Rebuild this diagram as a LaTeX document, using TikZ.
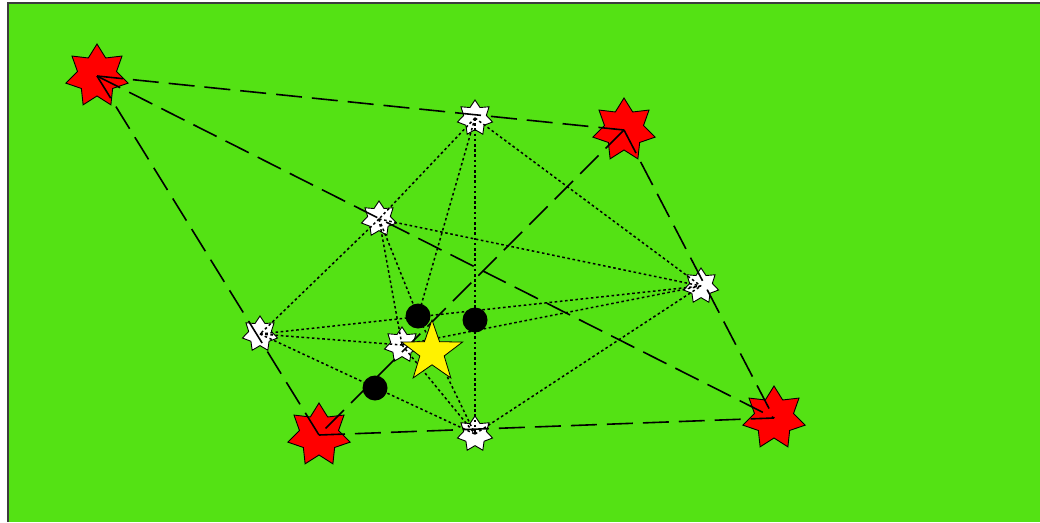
\documentclass[tikz,border=0pt]{standalone}
\usetikzlibrary{shapes.geometric}
\definecolor{bggreen}{RGB}{84,226,20}
\definecolor{framegray}{RGB}{60,60,60}
\tikzset{
  redstar/.style={star, star points=7, star point ratio=1.6, minimum size=64pt, inner sep=0pt, fill=red, draw=black, line width=0.9pt},
  whitestar/.style={star, star points=7, star point ratio=1.55, minimum size=36pt, inner sep=0pt, fill=white, draw=black, line width=0.9pt},
  yellowstar/.style={star, star points=5, star point ratio=2.5, minimum size=64pt, inner sep=0pt, fill=yellow, draw=black, line width=0.8pt},
  blackdot/.style={circle, fill=black, minimum size=25pt, inner sep=0pt},
  longdash/.style={draw=black, line width=1.6pt, dash pattern=on 26pt off 10pt},
  dotline/.style={draw=black, line width=1.5pt, dash pattern=on 2.6pt off 2.6pt}
}
\begin{document}
\begin{tikzpicture}[x=1pt, y=-1pt]
\useasboundingbox (0,0) rectangle (1040,522);
\fill[white] (0,0) rectangle (1040,522);
\fill[bggreen] (8,3) rectangle (1040,522);
\draw[framegray, line width=1.2pt] (8,522) -- (8,3) -- (1040,3);

% red stars
\node[redstar] (r1) at (97,76) {};
\node[redstar] (r2) at (624,130) {};
\node[redstar] (r3) at (319,435) {};
\node[redstar] (r4) at (774,418) {};

% white stars
\node[whitestar] (w1) at (475,118) {};
\node[whitestar] (w2) at (379,219) {};
\node[whitestar] (w3) at (701,286) {};
\node[whitestar] (w4) at (260,334) {};
\node[whitestar] (w5) at (402,345) {};
\node[whitestar] (w6) at (475,434) {};

% black dots (positions only, drawn later)
\coordinate (b1) at (418,316);
\coordinate (b2) at (475,320);
\coordinate (b3) at (375,388);

% long dashed edges
\draw[longdash] (r1.center) -- (r2.center);
\draw[longdash] (r1.center) -- (r3.center);
\draw[longdash] (r1.center) -- (r4.center);
\draw[longdash] (r2.center) -- (r3.center);
\draw[longdash] (r2.center) -- (r4.center);
\draw[longdash] (r3.center) -- (r4.center);

% dotted edges
\draw[dotline] (w1.center) -- (w2.center);
\draw[dotline] (w1.center) -- (w3.center);
\draw[dotline] (w1.center) -- (w6.center);
\draw[dotline] (w1.center) -- (b1);
\draw[dotline] (w2.center) -- (w3.center);
\draw[dotline] (w2.center) -- (w4.center);
\draw[dotline] (w2.center) -- (w5.center);
\draw[dotline] (w2.center) -- (b1);
\draw[dotline] (w4.center) -- (w3.center);
\draw[dotline] (w4.center) -- (w5.center);
\draw[dotline] (w4.center) -- (w6.center);
\draw[dotline] (w5.center) -- (w3.center);
\draw[dotline] (w5.center) -- (w6.center);
\draw[dotline] (w6.center) -- (w3.center);
\draw[dotline] (b1) -- (w6.center);

% black dots
\node[blackdot] (d1) at (b1) {};
\node[blackdot] (d2) at (b2) {};
\node[blackdot] (d3) at (b3) {};

% yellow star
\node[yellowstar] (y) at (432,352) {};
\end{tikzpicture}
\end{document}
